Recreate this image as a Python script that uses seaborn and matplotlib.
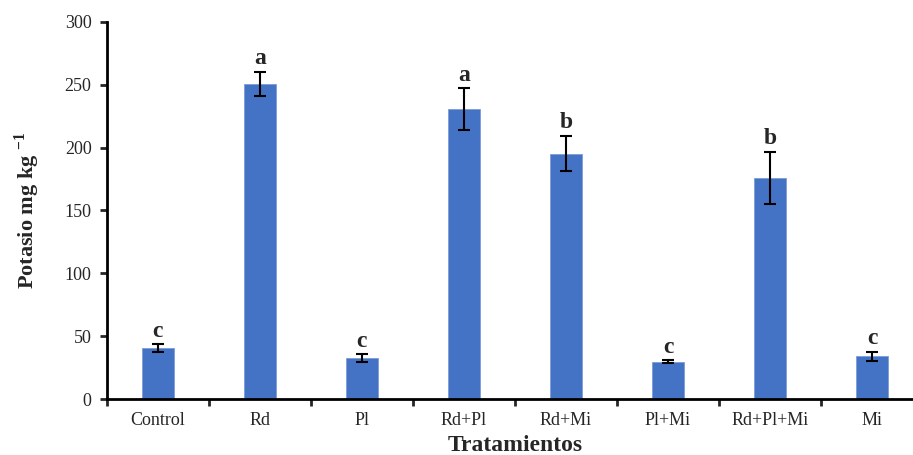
import numpy as np
import pandas as pd
import matplotlib
matplotlib.use("Agg")
import matplotlib.pyplot as plt
import seaborn as sns

tratamientos = ["Control", "Rd", "Pl", "Rd+Pl", "Rd+Mi", "Pl+Mi", "Rd+Pl+Mi", "Mi"]
potasio = [40.5, 250.5, 32.5, 230.5, 195.0, 29.8, 176.0, 34.0]
error = [3.0, 9.5, 3.0, 16.5, 14.0, 1.0, 20.5, 3.7]
letras = ["c", "a", "c", "a", "b", "c", "b", "c"]

sns.set_style("white")
plt.rcParams["font.family"] = ["Liberation Serif", "DejaVu Serif"]
plt.rcParams["mathtext.fontset"] = "custom"
plt.rcParams["mathtext.rm"] = "Liberation Serif"
plt.rcParams["mathtext.bf"] = "Liberation Serif:bold"

df = pd.DataFrame({"Tratamientos": tratamientos, "Potasio": potasio})

fig = plt.figure(figsize=(9.13, 4.55), dpi=100)
ax = fig.add_axes([0.117, 0.123, 0.894, 0.829])

sns.barplot(data=df, x="Tratamientos", y="Potasio", color="#4472C4",
            saturation=1, width=0.32, edgecolor="#7c9bd6", linewidth=0.6, ax=ax)
ax.errorbar(np.arange(len(tratamientos)), potasio, yerr=error, fmt="none",
            ecolor="black", elinewidth=1.5, capsize=4, capthick=1.5)

for i, (v, e, l) in enumerate(zip(potasio, error, letras)):
    ax.annotate(l, (i, v + e), xytext=(0, 2), textcoords="offset points",
                ha="center", va="bottom", fontsize=17, fontweight="bold")

ax.set_ylim(0, 300)
ax.set_xlim(-0.5, len(tratamientos) - 0.5)
ax.set_yticks(range(0, 301, 50))
ax.set_xticks(np.arange(-0.5, len(tratamientos), 1.0), minor=True)
ax.tick_params(axis="x", which="major", length=0, pad=9, labelsize=13)
ax.tick_params(axis="x", which="minor", length=5, width=2, direction="out", bottom=True)
ax.tick_params(axis="y", length=5, width=2, direction="out", left=True, labelsize=13, pad=6)

for s in ["top", "right"]:
    ax.spines[s].set_visible(False)
for s in ["left", "bottom"]:
    ax.spines[s].set_linewidth(2)
    ax.spines[s].set_color("black")

ax.set_xlabel("Tratamientos", fontsize=17, fontweight="bold", labelpad=5)
ax.set_ylabel(r"Potasio mg kg $^{\mathbf{-1}}$", fontsize=16, fontweight="bold", labelpad=16)

fig.savefig("out.png", dpi=100)
